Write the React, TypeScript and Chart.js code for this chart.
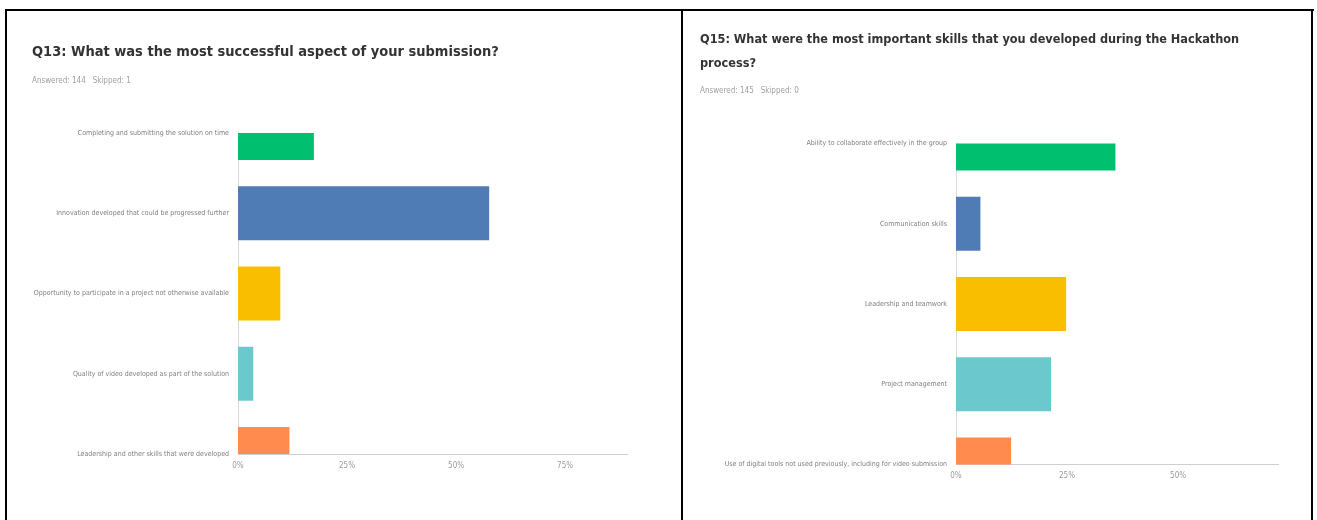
import { useEffect, useRef } from "react";
import { Chart, registerables } from "chart.js";

Chart.register(...registerables);

// ---------- data ----------
const q13Title = "Q13: What was the most successful aspect of your submission?";
const q13Subtitle = "Answered: 144   Skipped: 1";
const q13Categories = [
  "Completing and submitting the solution on time",
  "Innovation developed that could be progressed further",
  "Opportunity to participate in a project not otherwise available",
  "Quality of video developed as part of the solution",
  "Leadership and other skills that were developed",
];
const q13Values = [17.4, 57.6, 9.7, 3.5, 11.8];

const q15Title = [
  "Q15: What were the most important skills that you developed during the Hackathon",
  "process?",
];
const q15Subtitle = "Answered: 145   Skipped: 0";
const q15Categories = [
  "Ability to collaborate effectively in the group",
  "Communication skills",
  "Leadership and teamwork",
  "Project management",
  "Use of digital tools not used previously, including for video submission",
];
const q15Values = [35.9, 5.5, 24.8, 21.4, 12.4];

const barColors = ["#00BF6F", "#507CB6", "#F9BE00", "#6BC8CD", "#FF8B4F"];
const tickStep = 25;

// ---------- styling ----------
const NARROW = "'DejaVu Sans Condensed', 'DejaVu Sans', sans-serif";

type PanelProps = {
  left: number;
  top: number;
  width: number;
  height: number;
  title: string | string[];
  subtitle: string;
  categories: string[];
  values: number[];
  axisMax: number;
  padLeft: number;
  padRight: number;
  padBottom: number;
  yAxisWidth: number;
  titleSize: number;
  titlePadTop: number;
  titleLineHeight: number;
  subPadTop: number;
  subPadBottom: number;
};

function Panel(p: PanelProps) {
  const ref = useRef<HTMLCanvasElement | null>(null);
  useEffect(() => {
    if (!ref.current) return;
    const chart = new Chart(ref.current, {
      type: "bar",
      data: {
        labels: p.categories,
        datasets: [
          {
            data: p.values,
            backgroundColor: barColors,
            borderWidth: 0,
            categoryPercentage: 1,
            barPercentage: 0.672,
            clip: 0,
          },
        ],
      },
      options: {
        indexAxis: "y",
        animation: false,
        responsive: false,
        maintainAspectRatio: false,
        layout: {
          padding: { left: p.padLeft, right: p.padRight, top: 0, bottom: p.padBottom },
        },
        plugins: {
          legend: { display: false },
          tooltip: { enabled: false },
          title: {
            display: true,
            text: p.title,
            align: "start",
            color: "#333333",
            font: { family: NARROW, size: p.titleSize, weight: "bold", lineHeight: p.titleLineHeight },
            padding: { top: p.titlePadTop, bottom: 0 },
          },
          subtitle: {
            display: true,
            text: p.subtitle,
            align: "start",
            color: "#a0a0a0",
            font: { family: NARROW, size: 8, lineHeight: 1.2 },
            padding: { top: p.subPadTop, bottom: p.subPadBottom },
          },
        },
        scales: {
          x: {
            type: "linear",
            min: 0,
            max: p.axisMax,
            grid: { display: false, drawTicks: false },
            border: { display: true, color: "#cfcfcf", width: 1 },
            ticks: {
              stepSize: tickStep,
              includeBounds: false,
              padding: 7,
              color: "#9a9a9a",
              font: { family: NARROW, size: 8 },
              callback: (v: any) => `${v}%`,
            },
            afterFit: (s: any) => {
              s.height = 20;
            },
          },
          y: {
            type: "category",
            offset: false,
            grid: { display: false, drawTicks: false, offset: false },
            border: { display: true, color: "#d8d8d8", width: 1 },
            ticks: {
              autoSkip: false,
              padding: 9,
              color: "#808080",
              font: { family: NARROW, size: 7 },
            },
            afterFit: (s: any) => {
              s.width = p.yAxisWidth;
            },
          },
        },
      },
    } as any);
    return () => chart.destroy();
  }, []);
  return (
    <canvas
      ref={ref}
      width={p.width}
      height={p.height}
      style={{ position: "absolute", left: p.left, top: p.top, width: p.width, height: p.height }}
    />
  );
}

const line = (l: number, t: number, w: number, h: number) => (
  <div style={{ position: "absolute", left: l, top: t, width: w, height: h, background: "#000" }} />
);

export default function App() {
  return (
    <div
      style={{
        position: "fixed",
        left: 0,
        top: 0,
        width: 1317,
        height: 520,
        overflow: "hidden",
        background: "#fff",
      }}
    >
      <Panel
        left={8}
        top={12}
        width={672}
        height={508}
        title={q13Title}
        subtitle={q13Subtitle}
        categories={q13Categories}
        values={q13Values}
        axisMax={89.2}
        padLeft={24}
        padRight={53}
        padBottom={46}
        yAxisWidth={206}
        titleSize={14.5}
        titlePadTop={31.8}
        titleLineHeight={1.2}
        subPadTop={15}
        subPadBottom={47.2}
      />
      <Panel
        left={686}
        top={12}
        width={623}
        height={508}
        title={q15Title}
        subtitle={q15Subtitle}
        categories={q15Categories}
        values={q15Values}
        axisMax={72.5}
        padLeft={14}
        padRight={31}
        padBottom={35.5}
        yAxisWidth={256}
        titleSize={12.6}
        titlePadTop={16}
        titleLineHeight={24 / 12.6}
        subPadTop={10.2}
        subPadBottom={47.7}
      />
      {line(5, 9, 1309, 2)}
      {line(5, 9, 2, 511)}
      {line(681, 9, 2, 511)}
      {line(1311, 9, 2, 511)}
    </div>
  );
}
